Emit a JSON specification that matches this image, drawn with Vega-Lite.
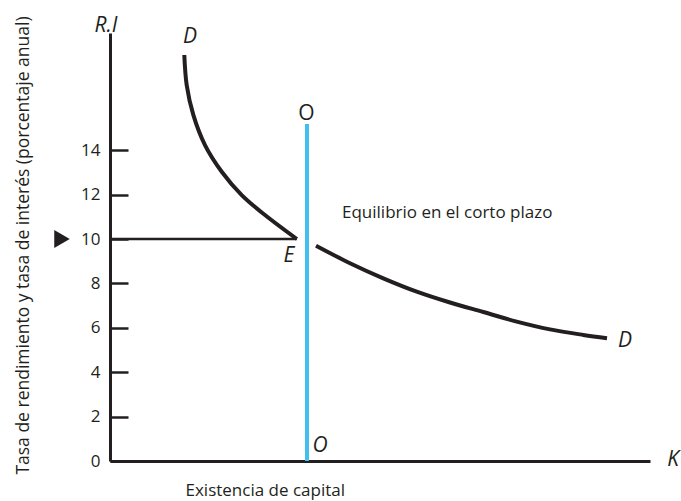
{
  "$schema": "https://vega.github.io/schema/vega-lite/v6.json",
  "width": 540,
  "height": 428,
  "autosize": {"type": "none"},
  "padding": {"left": 110, "top": 33, "right": 31, "bottom": 40},
  "background": "white",
  "config": {"view": {"stroke": null}, "font": "Open Sans", "axis": {"grid": false}},
  "datasets": {
    "curve": [
      {"seg": "upper", "k": 13.76, "r": 18.29},
      {"seg": "upper", "k": 14.2, "r": 16.94},
      {"seg": "upper", "k": 15.43, "r": 15.59},
      {"seg": "upper", "k": 17.59, "r": 14.23},
      {"seg": "upper", "k": 20.69, "r": 13.03},
      {"seg": "upper", "k": 24.39, "r": 11.98},
      {"seg": "upper", "k": 28.7, "r": 11.08},
      {"seg": "upper", "k": 34.6, "r": 10.0},
      {"seg": "lower", "k": 38.15, "r": 9.7},
      {"seg": "lower", "k": 44.44, "r": 8.91},
      {"seg": "lower", "k": 50.61, "r": 8.23},
      {"seg": "lower", "k": 56.8, "r": 7.63},
      {"seg": "lower", "k": 62.96, "r": 7.14},
      {"seg": "lower", "k": 69.13, "r": 6.71},
      {"seg": "lower", "k": 75.31, "r": 6.28},
      {"seg": "lower", "k": 81.48, "r": 5.93},
      {"seg": "lower", "k": 87.65, "r": 5.68},
      {"seg": "lower", "k": 92.04, "r": 5.53}
    ],
    "hline": [{"k": 0, "k2": 34.6, "r": 10}],
    "supply": [{"k": 36.48, "r": 0, "r2": 15.18}],
    "italicLabels": [
      {"label": "R.I", "k": -0.74, "r": 19.32},
      {"label": "D", "k": 14.8, "r": 18.83},
      {"label": "D", "k": 95.37, "r": 5.14},
      {"label": "K", "k": 104.26, "r": -0.23},
      {"label": "O", "k": 38.9, "r": 0.41},
      {"label": "E", "k": 33.15, "r": 8.96}
    ],
    "topLabel": [{"label": "O", "k": 36.39, "r": 15.36}],
    "note": [{"label": "Equilibrio en el corto plazo", "k": 42.96, "r": 10.95}],
    "marker": [{"k": -8.89, "r": 10}]
  },
  "layer": [
    {
      "data": {"name": "curve"},
      "mark": {"type": "line", "interpolate": "catmull-rom", "stroke": "#231f20", "strokeWidth": 4, "strokeCap": "butt"},
      "encoding": {
        "x": {
          "field": "k", "type": "quantitative",
          "scale": {"domain": [0, 100], "nice": false, "zero": false},
          "axis": {
            "title": "Existencia de capital",
            "domainColor": "#231f20", "domainWidth": 3,
            "ticks": false, "labels": false,
            "titleX": 75, "titleY": 34,
            "titleAlign": "left", "titleBaseline": "alphabetic",
            "titleFontSize": 17, "titleFontWeight": "normal", "titleColor": "#231f20"
          }
        },
        "y": {
          "field": "r", "type": "quantitative",
          "scale": {"domain": [0, 19.28], "nice": false, "zero": false},
          "axis": {
            "title": "Tasa de rendimiento y tasa de interés (porcentaje anual)",
            "values": [0, 2, 4, 6, 8, 10, 12, 14],
            "domainColor": "#231f20", "domainWidth": 3,
            "tickSize": -18, "tickWidth": 2.5, "tickColor": "#231f20",
            "labelFontSize": 17, "labelColor": "#231f20", "labelPadding": 28,
            "titleX": -82, "titleY": 212, "titleAngle": -90,
            "titleAlign": "center", "titleBaseline": "alphabetic",
            "titleFontSize": 17.5, "titleFontWeight": "normal", "titleColor": "#231f20"
          }
        },
        "detail": {"field": "seg"},
        "order": {"field": "k", "type": "quantitative"}
      }
    },
    {
      "data": {"name": "hline"},
      "mark": {"type": "rule", "stroke": "#231f20", "strokeWidth": 2.5},
      "encoding": {
        "x": {"field": "k", "type": "quantitative"},
        "x2": {"field": "k2"},
        "y": {"field": "r", "type": "quantitative"}
      }
    },
    {
      "data": {"name": "supply"},
      "mark": {"type": "rule", "stroke": "#41c0ef", "strokeWidth": 4},
      "encoding": {
        "x": {"field": "k", "type": "quantitative"},
        "y": {"field": "r", "type": "quantitative"},
        "y2": {"field": "r2"}
      }
    },
    {
      "data": {"name": "italicLabels"},
      "mark": {"type": "text", "fontStyle": "italic", "fontSize": 21, "align": "center", "baseline": "alphabetic", "color": "#231f20"},
      "encoding": {
        "x": {"field": "k", "type": "quantitative"},
        "y": {"field": "r", "type": "quantitative"},
        "text": {"field": "label"}
      }
    },
    {
      "data": {"name": "topLabel"},
      "mark": {"type": "text", "fontSize": 21, "align": "center", "baseline": "alphabetic", "color": "#231f20"},
      "encoding": {
        "x": {"field": "k", "type": "quantitative"},
        "y": {"field": "r", "type": "quantitative"},
        "text": {"field": "label"}
      }
    },
    {
      "data": {"name": "note"},
      "mark": {"type": "text", "fontSize": 17, "align": "left", "baseline": "alphabetic", "color": "#231f20"},
      "encoding": {
        "x": {"field": "k", "type": "quantitative"},
        "y": {"field": "r", "type": "quantitative"},
        "text": {"field": "label"}
      }
    },
    {
      "data": {"name": "marker"},
      "mark": {"type": "point", "shape": "triangle-right", "filled": true, "size": 320, "color": "#231f20", "opacity": 1},
      "encoding": {
        "x": {"field": "k", "type": "quantitative"},
        "y": {"field": "r", "type": "quantitative"}
      }
    }
  ]
}
